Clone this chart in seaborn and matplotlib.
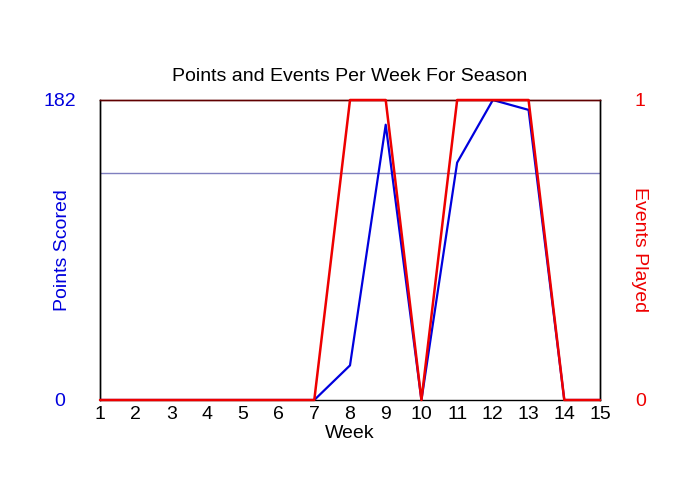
import pandas as pd
import matplotlib
matplotlib.use("Agg")
import matplotlib.pyplot as plt
import seaborn as sns

# ===== data =====
weeks = list(range(1, 16))
points = [0, 0, 0, 0, 0, 0, 0, 21, 167, 0, 144, 182, 176, 0, 0]
events = [0, 0, 0, 0, 0, 0, 0, 1, 1, 0, 1, 1, 1, 0, 0]

df = pd.DataFrame({"Week": weeks, "Points": points, "Events": events})
avg_per_event = df["Points"].sum() / df["Events"].sum()

BLUE = "#0000dd"
RED = "#ee0000"

sns.set_style("white")
plt.rcParams['font.family'] = ['Liberation Sans', 'DejaVu Sans']
plt.rcParams['text.color'] = 'black'
plt.rcParams['axes.labelcolor'] = 'black'
plt.rcParams['xtick.color'] = 'black'

fig = plt.figure(figsize=(7, 5), dpi=100)
ax = fig.add_axes([100 / 700, 100 / 500, 500 / 700, 300 / 500])

# average points per event played
ax.axhline(avg_per_event, color="#7f7fbf", lw=1, zorder=1)
sns.lineplot(data=df, x="Week", y="Points", ax=ax, color=BLUE, lw=1.6, zorder=2)
ax.set_xlim(1, 15)
ax.set_ylim(0, 182)
ax.set_xticks(weeks)
ax.set_yticks([0, 182])
ax.tick_params(axis="x", length=0, pad=4, labelsize=14, labelcolor="black")
ax.tick_params(axis="y", length=0, pad=29, labelsize=14, labelcolor=BLUE)
for lab in ax.get_yticklabels():
    lab.set_ha("center")
ax.set_xlabel("Week", fontsize=14, labelpad=2, color="black")
ax.set_ylabel("Points Scored", fontsize=14, color=BLUE)
ax.yaxis.set_label_coords(-29 / 500, 0.5)

ax2 = ax.twinx()
sns.lineplot(data=df, x="Week", y="Events", ax=ax2, color=RED, lw=1.8,
             zorder=5, clip_on=False)
ax2.set_ylim(0, 1)
ax2.set_yticks([0, 1])
ax2.tick_params(axis="y", length=0, pad=29, labelsize=14, labelcolor=RED)
for lab in ax2.get_yticklabels():
    lab.set_ha("center")
ax2.set_ylabel("Events Played", fontsize=14, color=RED, rotation=270)
ax2.yaxis.set_label_coords(1 + 48 / 500, 0.5)

for a in (ax, ax2):
    for s in a.spines.values():
        s.set_color("black")
        s.set_linewidth(1)
    a.spines["top"].set_color("#600000")
ax2.spines["bottom"].set_visible(False)

ax.set_title("Points and Events Per Week For Season", fontsize=14, pad=14,
             color="black")

fig.savefig("out.png", dpi=100)
